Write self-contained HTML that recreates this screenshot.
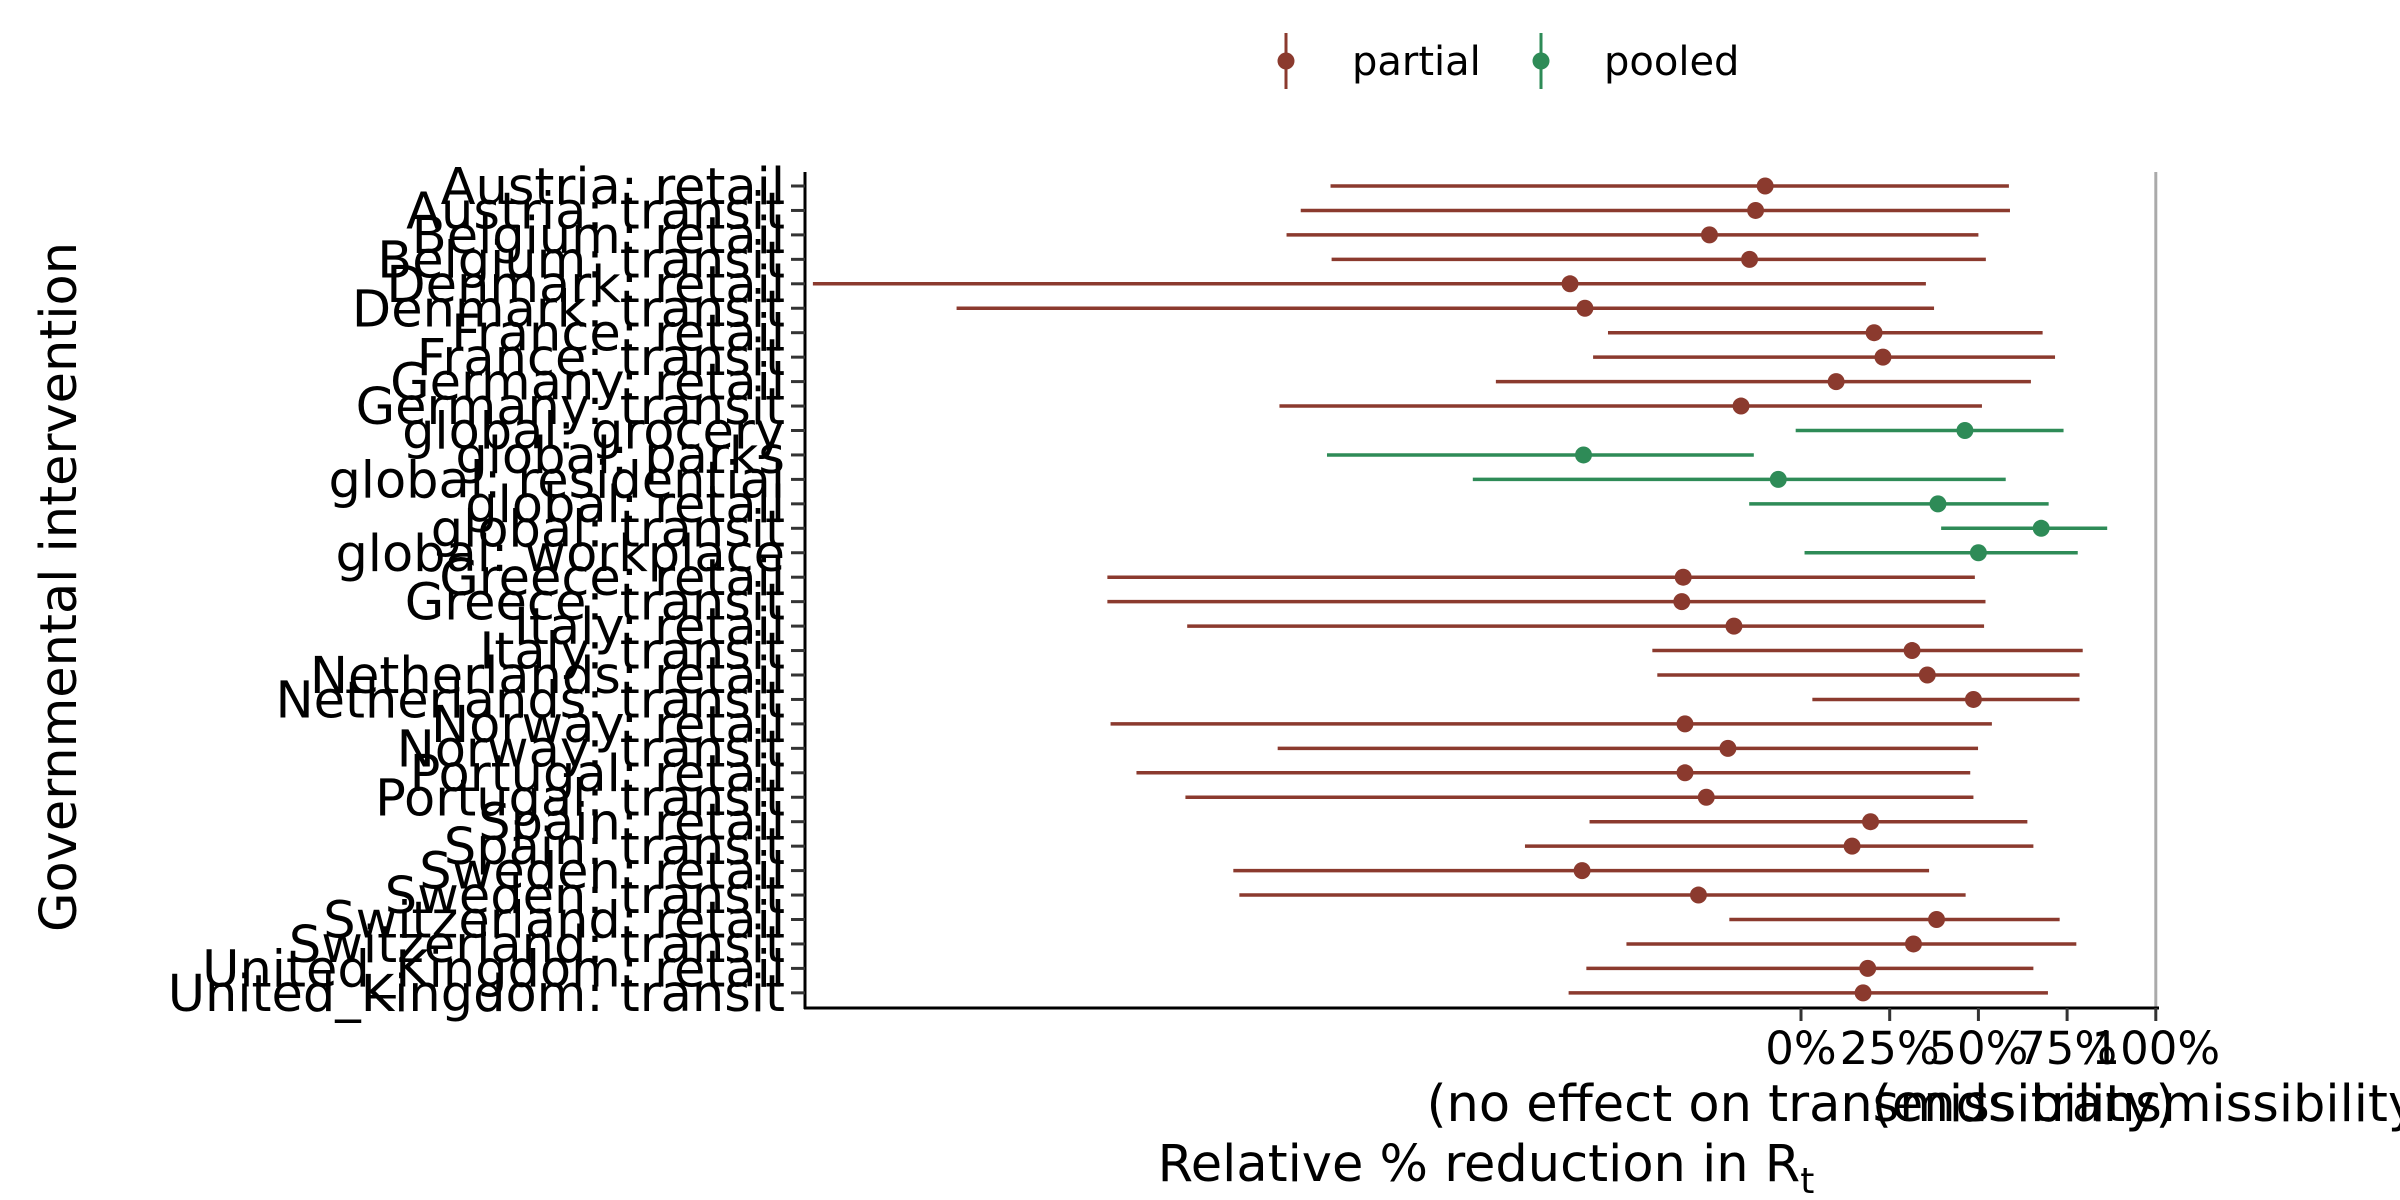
<!DOCTYPE html>
<html><head><meta charset="utf-8"><style>
html,body{margin:0;padding:0;background:#fff;}
svg{display:block;font-family:"DejaVu Sans","Liberation Sans",sans-serif;}
</style></head><body>
<svg id="chart" width="2400" height="1200" viewBox="0 0 2400 1200" xmlns="http://www.w3.org/2000/svg">
<g id="legend">
 <g>
  <line x1="1286" y1="33" x2="1286" y2="89" stroke="#8B3A2E" stroke-width="3"/>
  <circle cx="1286" cy="61" r="8.5" fill="#8B3A2E"/>
  <text x="1352" y="75" font-size="40">partial</text>
 </g>
 <g>
  <line x1="1541" y1="33" x2="1541" y2="89" stroke="#2E8B57" stroke-width="3"/>
  <circle cx="1541" cy="61" r="8.5" fill="#2E8B57"/>
  <text x="1604" y="75" font-size="40">pooled</text>
 </g>
</g>
<g id="plot"></g>
<text transform="translate(76,587) rotate(-90)" text-anchor="middle" font-size="51">Governmental intervention</text>
<text x="1801" y="1121" text-anchor="middle" font-size="51">(no effect on transmissibility)</text>
<text x="2155" y="1121" text-anchor="middle" font-size="51">(ends transmissibility)</text>
<text x="1486" y="1181" text-anchor="middle" font-size="51">Relative % reduction in  R<tspan font-size="36" dy="12">t</tspan></text>
</svg>
<script>
const categories = ["Austria: retail","Austria: transit","Belgium: retail","Belgium: transit","Denmark: retail","Denmark: transit","France: retail","France: transit","Germany: retail","Germany: transit","global: grocery","global: parks","global: residential","global: retail","global: transit","global: workplace","Greece: retail","Greece: transit","Italy: retail","Italy: transit","Netherlands: retail","Netherlands: transit","Norway: retail","Norway: transit","Portugal: retail","Portugal: transit","Spain: retail","Spain: transit","Sweden: retail","Sweden: transit","Switzerland: retail","Switzerland: transit","United_Kingdom: retail","United_Kingdom: transit"];
const lowerValues = [-132.6,-141,-145,-132.3,-278.5,-238,-54.4,-58.6,-86,-147,-1.5,-133.6,-92.5,-14.6,39.5,1,-195.5,-195.5,-173,-41.9,-40.5,3.2,-194.6,-147.5,-187.3,-173.5,-59.6,-77.8,-160,-158.3,-20.2,-49.2,-60.5,-65.5];
const medianValues = [-10.1,-12.8,-25.8,-14.5,-65.1,-60.9,20.6,23.1,9.9,-16.9,46.2,-61.3,-6.4,38.6,67.7,50,-33.2,-33.6,-18.9,31.3,35.6,48.6,-32.7,-20.6,-32.7,-26.7,19.6,14.4,-61.7,-28.9,38.2,31.7,18.8,17.5];
const upperValues = [58.6,58.9,50,52.1,35.2,37.5,68.1,71.6,64.8,51,74,-13.3,57.7,69.8,86.3,78,49,52,51.6,79.4,78.5,78.5,53.8,49.9,47.7,48.6,63.8,65.5,36.1,46.4,72.9,77.6,65.5,69.6];
const groups = ["partial","partial","partial","partial","partial","partial","partial","partial","partial","partial","pooled","pooled","pooled","pooled","pooled","pooled","partial","partial","partial","partial","partial","partial","partial","partial","partial","partial","partial","partial","partial","partial","partial","partial","partial","partial"];
const xTickValues = [0,25,50,75,100];
const xTickLabels = ["0%","25%","50%","75%","100%"];

const NS = "http://www.w3.org/2000/svg";
const colors = {partial:"#8B3A2E", pooled:"#2E8B57"};
const x0 = 1801, pxPerPct = 3.548;
function xScale(v){ return x0 + v*pxPerPct; }
const yTop = 186, rowStep = 24.45;
function yScale(i){ return yTop + i*rowStep; }
const plot = document.getElementById("plot");
function mk(tag, attrs){ const e=document.createElementNS(NS,tag); for(const k in attrs) e.setAttribute(k,attrs[k]); plot.appendChild(e); return e; }

const ref = mk("line",{x1:xScale(100),x2:xScale(100),y1:172,y2:1008,stroke:"#aaaaaa","stroke-width":3});



const yAxis = mk("line",{x1:805,x2:805,y1:172,y2:1009,stroke:"#000","stroke-width":3});


const xAxis = mk("line",{x1:804,x2:2159,y1:1008,y2:1008,stroke:"#000","stroke-width":3});



categories.forEach((c,i)=>{
  const y=yScale(i);
  const tk = mk("line",{x1:791,x2:805,y1:y,y2:y,stroke:"#333","stroke-width":3});
  
  
  const t = mk("text",{x:785,y:y+18,"text-anchor":"end","font-size":51});
  t.textContent=c;
  
  
  const col = colors[groups[i]];
  const ln = mk("line",{x1:xScale(lowerValues[i]),x2:xScale(upperValues[i]),y1:y,y2:y,stroke:col,"stroke-width":3.5});
  
  
  const pt = mk("circle",{cx:xScale(medianValues[i]),cy:y,r:8.5,fill:col});
  
  
});

xTickValues.forEach((v,i)=>{
  const x=xScale(v);
  const tk = mk("line",{x1:x,x2:x,y1:1008,y2:1021,stroke:"#333","stroke-width":3});
  
  
  const t = mk("text",{x:x,y:1064,"text-anchor":"middle","font-size":45});
  t.textContent=xTickLabels[i];
  
  
});
</script>
</body></html>
